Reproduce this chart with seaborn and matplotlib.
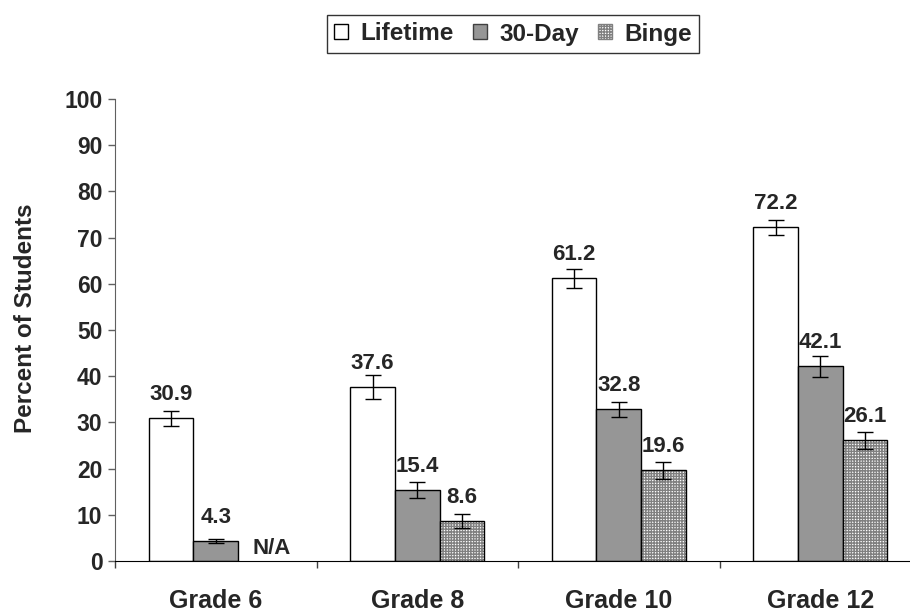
import numpy as np
import pandas as pd
import seaborn as sns
import matplotlib.pyplot as plt
from matplotlib.patches import Patch, Rectangle

# Data
grades = ['Grade 6', 'Grade 8', 'Grade 10', 'Grade 12']
measures = ['Lifetime', '30-Day', 'Binge']
lifetime = [30.9, 37.6, 61.2, 72.2]
day30 = [4.3, 15.4, 32.8, 42.1]
binge = [np.nan, 8.6, 19.6, 26.1]  # Grade 6: N/A
lifetime_err = [1.6, 2.6, 2.1, 1.6]
day30_err = [0.5, 1.8, 1.6, 2.2]
binge_err = [np.nan, 1.5, 1.8, 1.9]

sns.set_style('white')
plt.rcParams['font.family'] = ['Liberation Sans', 'DejaVu Sans']
plt.rcParams['font.weight'] = 'bold'
plt.rcParams['hatch.linewidth'] = 1.0

rows = []
for m, vals, errs in zip(measures, [lifetime, day30, binge],
                         [lifetime_err, day30_err, binge_err]):
    for g, v, e in zip(grades, vals, errs):
        rows.append({'grade': g, 'measure': m, 'value': v, 'err': e})
df = pd.DataFrame(rows).dropna()

fig = plt.figure(figsize=(9.1, 6.14), dpi=100)
ax = fig.add_axes([115 / 910, 0.0863, 806 / 910, 0.7525])

colors = ['white', '#969696', 'white']
sns.barplot(data=df, x='grade', y='value', hue='measure', order=grades,
            hue_order=measures, palette=colors, width=0.665, errorbar=None,
            edgecolor='black', linewidth=1, legend=False, ax=ax, saturation=1)

for m, cont in zip(measures, ax.containers):
    sub = df[df['measure'] == m]
    xs = [b.get_x() + b.get_width() / 2 for b in cont]
    ax.errorbar(xs, sub['value'], yerr=sub['err'], fmt='none', ecolor='black',
                elinewidth=1, capsize=5.5, capthick=1, zorder=5)
    for b, v in zip(cont, sub['value']):
        if m == 'Binge':
            # checkered fill: gray hatch, then black outline on top
            b.set_edgecolor('#808080')
            b.set_hatch('++++++')
            b.set_linewidth(0)
            ax.add_patch(Rectangle(b.get_xy(), b.get_width(), b.get_height(),
                                   fill=False, edgecolor='black', lw=1, zorder=4))
        ax.annotate(f'{v:.1f}', (b.get_x() + b.get_width() / 2, v),
                    xytext=(0, 13), textcoords='offset points', ha='center',
                    va='baseline', fontsize=16, fontweight='bold')

# N/A label for missing Grade 6 binge bar
binge_bar = ax.containers[2][0]
na_x = binge_bar.get_x() + binge_bar.get_width() / 2 - 1
ax.annotate('N/A', (na_x, 0), xytext=(8, 5), textcoords='offset points',
            ha='center', va='baseline', fontsize=16, fontweight='bold')

ax.set_ylim(0, 100)
ax.set_xlim(-0.5, 3.5)
ax.set_yticks(range(0, 101, 10))
ax.set_xlabel('')
ax.set_ylabel('Percent of Students', fontsize=17.5, fontweight='bold')
ax.yaxis.set_label_coords(-0.097, 0.526)
ax.tick_params(axis='y', labelsize=16.5, length=5, width=1, color='#606060',
               direction='out', left=True, pad=4)
ax.tick_params(axis='x', which='major', labelsize=18, length=0, pad=20)
ax.set_xticks(np.arange(-0.5, 3.6, 1), minor=True)
ax.tick_params(axis='x', which='minor', length=5, width=1, color='#404040',
               direction='out', bottom=True)
for lab in ax.get_xticklabels() + ax.get_yticklabels():
    lab.set_fontweight('bold')

sns.despine(ax=ax)
ax.spines['left'].set_color('#606060')
ax.spines['bottom'].set_color('black')

handles = [Patch(facecolor='white', edgecolor='black', label='Lifetime'),
           Patch(facecolor='#969696', edgecolor='#404040', label='30-Day'),
           Patch(facecolor='white', edgecolor='#808080', hatch='++++++',
                 label='Binge')]
leg = fig.legend(handles=handles, loc='center', bbox_to_anchor=(513 / 910, 1 - 34 / 614),
                 ncol=3, fontsize=17.5, frameon=True, fancybox=False,
                 handlelength=0.58, handleheight=0.58, handletextpad=0.5,
                 columnspacing=0.78, borderpad=0.3)
leg.get_frame().set_edgecolor('black')
leg.get_frame().set_linewidth(1)
for t in leg.get_texts():
    t.set_fontweight('bold')

fig.savefig('out.png', dpi=100)
